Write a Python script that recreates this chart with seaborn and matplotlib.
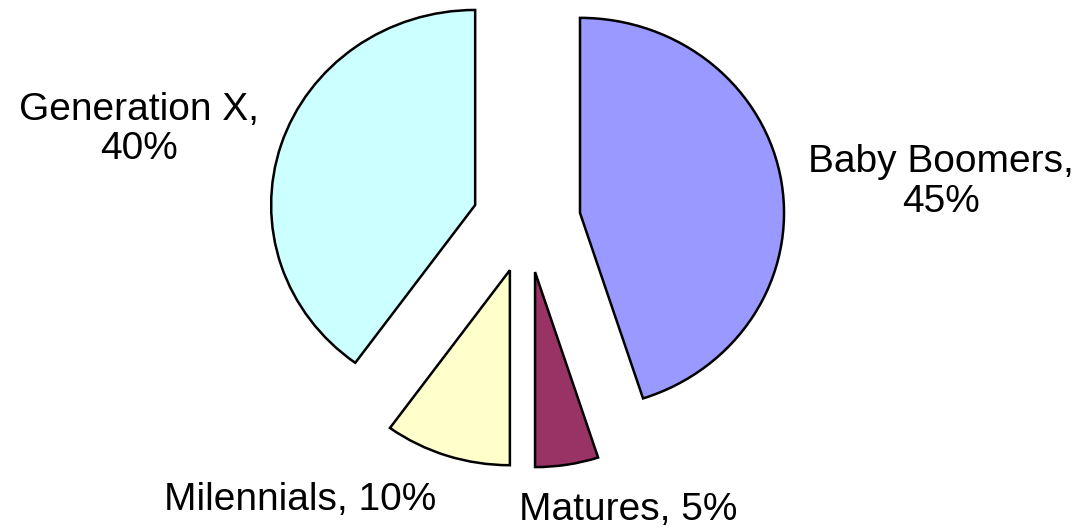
import seaborn as sns
import matplotlib.pyplot as plt

sns.set_theme(style='white')
plt.rcParams['font.family'] = ['Liberation Sans', 'DejaVu Sans']

generations = ['Baby Boomers', 'Matures', 'Milennials', 'Generation X']
shares = [45, 5, 10, 40]
colors = ['#9999FF', '#993366', '#FFFFCC', '#CCFFFF']

# label text and where it sits (data units, pie radius = 1)
label_text = ['Baby Boomers,\n45%', 'Matures, 5%', 'Milennials, 10%', 'Generation X,\n40%']
label_pos = [(2.03, 0.20), (0.50, -1.48), (-1.11, -1.43), (-1.90, 0.47)]

fig = plt.figure(figsize=(10.84, 5.28), dpi=100)
ax = fig.add_axes([0, 0, 1, 1])
wedges, texts = ax.pie(shares, colors=colors, startangle=90, counterclock=False,
                       explode=[0.265] * 4, labels=label_text, frame=True,
                       wedgeprops={'edgecolor': 'black', 'linewidth': 1.8},
                       textprops={'fontsize': 28, 'color': 'black'})
for t, (x, y) in zip(texts, label_pos):
    t.set_position((x, y))
    t.set_ha('center')
    t.set_va('center')
    t.set_multialignment('center')
    t.set_linespacing(1.12)

ax.set_aspect('auto')
ax.set_xlim(-2.581, 2.732)
ax.set_ylim(-1.574, 1.133)
ax.axis('off')

fig.savefig('out.png', dpi=100, facecolor='white')
